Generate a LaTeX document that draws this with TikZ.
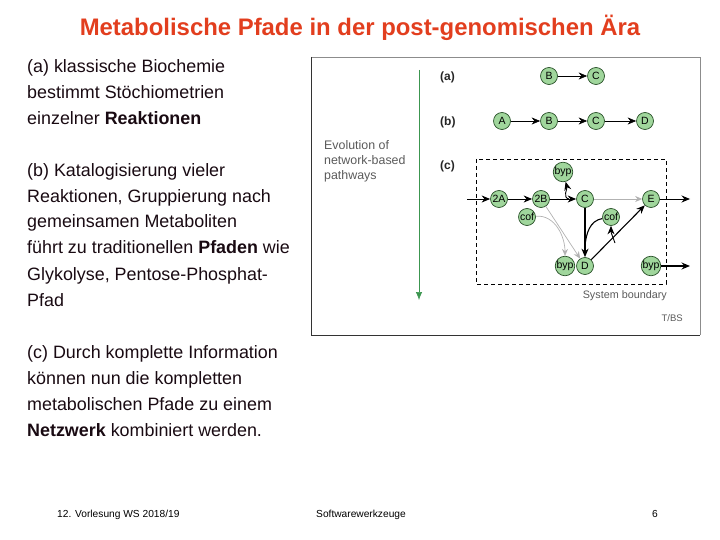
\documentclass[tikz,border=0pt]{standalone}
\usepackage{fontspec}
\setmainfont{Liberation Sans}
\usetikzlibrary{arrows.meta}
\definecolor{titlered}{RGB}{226,62,30}
\definecolor{bodytext}{RGB}{25,10,18}
\definecolor{metfill}{RGB}{160,214,156}
\definecolor{metborder}{RGB}{40,80,40}
\definecolor{evogreen}{RGB}{60,150,80}
\definecolor{figgray}{RGB}{90,90,90}
\begin{document}
\begin{tikzpicture}[x=1pt,y=-1pt,
  met/.style={circle,draw=metborder,line width=0.7pt,fill=metfill,inner sep=0pt,minimum size=17pt,font=\fontsize{10.5}{10.5}\selectfont},
  body/.style={anchor=base west,inner sep=0pt,text=bodytext,font=\fontsize{17.9}{17.9}\selectfont},
  blk/.style={-{Stealth[length=8.5pt,width=7pt]},line width=0.9pt,black},
  gry/.style={-{Stealth[length=7pt,width=6pt]},line width=0.7pt,black!30},
  small/.style={anchor=base west,inner sep=0pt,text=figgray,font=\fontsize{12.4}{12.4}\selectfont},
  lab/.style={anchor=base west,inner sep=0pt,font=\bfseries\fontsize{12}{12}\selectfont,text=black!85}]
\useasboundingbox (0,0) rectangle (720,540);
% title
\node[anchor=base,inner sep=0pt,text=titlered,font=\bfseries\fontsize{23.9}{23.9}\selectfont] (title) at (360,36) {Metabolische Pfade in der post-genomischen Ära};
% left text
\node[body] (t1) at (27,73) {(a) klassische Biochemie};
\node[body] (t2) at (27,99) {bestimmt Stöchiometrien};
\node[body] (t3) at (27,125) {einzelner \textbf{Reaktionen}};
\node[body] (t4) at (27,177) {(b) Katalogisierung vieler};
\node[body] (t5) at (27,203) {Reaktionen, Gruppierung nach};
\node[body] (t6) at (27,228) {gemeinsamen Metaboliten};
\node[body] (t7) at (27,254) {führt zu traditionellen \textbf{Pfaden} wie};
\node[body] (t8) at (27,280) {Glykolyse, Pentose-Phosphat-};
\node[body] (t9) at (27,306) {Pfad};
\node[body] (t10) at (27,358) {(c) Durch komplette Information};
\node[body] (t11) at (27,384) {können nun die kompletten};
\node[body] (t12) at (27,410) {metabolischen Pfade zu einem};
\node[body] (t13) at (27,436) {\textbf{Netzwerk} kombiniert werden.};
% footer
\node[anchor=base west,inner sep=0pt,font=\fontsize{10.2}{10.2}\selectfont] (f1) at (57,517) {12. Vorlesung WS 2018/19};
\node[anchor=base west,inner sep=0pt,font=\fontsize{10.2}{10.2}\selectfont] (f2) at (316,517) {Softwarewerkzeuge};
\node[anchor=base west,inner sep=0pt,font=\fontsize{10.2}{10.2}\selectfont] (f3) at (652,517) {6};
% figure frame
\draw[black!45,line width=0.8pt] (311,57) -- (700,57) -- (700,335);
\draw[black!80,line width=1pt] (311,57) -- (311,335) -- (700,335);
% evolution arrow
\coordinate (evtop) at (419,70);
\coordinate (evbot) at (419,300);
\draw[evogreen,line width=0.7pt,-{Latex[length=8pt,width=6.5pt]}] (evtop) -- (evbot);
\node[small] (ev1) at (324,150) {Evolution of};
\node[small] (ev2) at (324,165) {network-based};
\node[small] (ev3) at (324,180) {pathways};
\node[lab] (la) at (440,81) {(a)};
\node[lab] (lb) at (440,126) {(b)};
\node[lab] (lc) at (440,170) {(c)};
% (a)
\node[met] (aB) at (549,76) {B};
\node[met] (aC) at (596,76) {C};
\draw[blk,line width=0.6pt] (aB) -- (aC);
% (b)
\node[met] (bA) at (502,121) {A};
\node[met] (bB) at (549,121) {B};
\node[met] (bC) at (596,121) {C};
\node[met] (bD) at (645,121) {D};
\draw[blk,line width=0.6pt] (bA) -- (bB);
\draw[blk,line width=0.6pt] (bB) -- (bC);
\draw[blk,line width=0.6pt] (bC) -- (bD);
% (c)
\draw[dashed,dash pattern=on 4pt off 3pt,line width=0.8pt] (476,159) rectangle (666,284);
\node[anchor=base east,inner sep=0pt,text=figgray,font=\fontsize{10.8}{10.8}\selectfont] (sb) at (667,298) {System boundary};
\node[anchor=base east,inner sep=0pt,text=figgray,font=\fontsize{9.5}{9.5}\selectfont] (tbs) at (683,321) {T/BS};
\node[met,minimum size=19pt] (byp1) at (563,172) {byp};
\node[met] (c2A) at (499,199) {2A};
\node[met] (c2B) at (541,199) {2B};
\node[met] (cC) at (585,199) {C};
\node[met] (cE) at (651,199) {E};
\node[met] (cof1) at (527,217) {cof};
\node[met] (cof2) at (611,217) {cof};
\node[met,minimum size=19pt] (byp2) at (565,266) {byp};
\node[met] (cD) at (585,266) {D};
\node[met,minimum size=19pt] (byp3) at (651,266) {byp};
\coordinate (inA) at (467,199);
\coordinate (outE) at (690,199);
\coordinate (outB) at (690,266);
\coordinate (br1) at (569,199);
\coordinate (j1) at (585,246);
\coordinate (br2) at (615,243);
\draw[blk] (inA) -- (c2A);
\draw[blk] (c2A) -- (c2B);
\draw[blk] (c2B) -- (cC);
\draw[blk] (br1) to[out=170,in=-75] (byp1);
\draw[gry] (cC) -- (cE);
\draw[blk,line width=1.6pt] (cC) -- (cD);
\draw[line width=1.1pt] (cof2) to[out=190,in=85] (j1);
\draw[blk,line width=1.1pt] (cD) -- (cE);
\draw[blk] (br2) to[out=110,in=-90] (cof2);
\draw[gry] (c2B) -- (cD);
\draw[gry] (cof1) to[out=5,in=90] (byp2);
\draw[blk] (cE) -- (outE);
\draw[blk,line width=1.5pt] (byp3) -- (outB);
\end{tikzpicture}
\end{document}
